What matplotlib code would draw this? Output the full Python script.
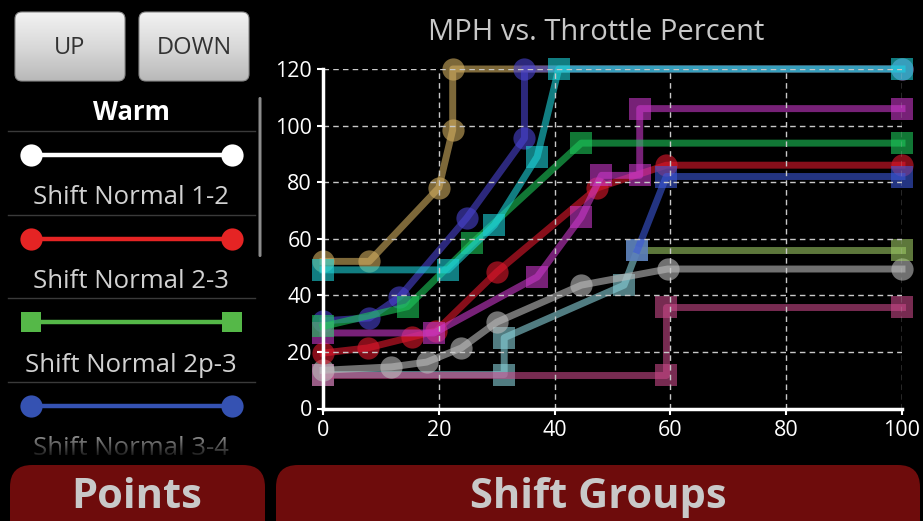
"""
MPH vs. Throttle Percent - shift schedule screen
"""

import numpy as np
import matplotlib.pyplot as plt
from matplotlib.patches import FancyBboxPatch, Rectangle
from matplotlib.colors import LinearSegmentedColormap

plt.rcParams['font.family'] = ['Open Sans', 'DejaVu Sans']

# chart data (throttle %, mph)
title = 'MPH vs. Throttle Percent'
x_ticks = [0, 20, 40, 60, 80, 100]
y_ticks = [0, 20, 40, 60, 80, 100, 120]

gold_x = [0, 8, 20, 22.4, 22.4, 100]
gold_y = [52, 52, 78, 98.5, 120, 120]

blue_c_x = [0, 8, 13.2, 24.8, 34.8, 34.8, 100]
blue_c_y = [31, 32, 39.4, 67.3, 95.5, 120, 120]

pink_x = [0, 59.3, 59.3, 100]
pink_y = [12, 12, 36, 36]

steel_x = [0, 31.3, 31.3, 52, 54.3]
steel_y = [12, 12, 25, 43.6, 56]

gray_x = [0, 11.8, 17.9, 23.9, 30, 44.6, 59.5, 100]
gray_y = [13.5, 14.7, 16.4, 21.4, 30.5, 43.6, 49.3, 49.3]

red_x = [0, 7.7, 15.4, 19.6, 30, 47.4, 59.3, 100]
red_y = [19.6, 21.4, 25.3, 27.5, 48.2, 78, 86, 86]

purple_x = [0, 19.2, 37, 44.6, 48.1, 54.7, 54.7, 100]
purple_y = [26.7, 26.7, 46.5, 67.6, 82.4, 82.4, 106, 106]

green_x = [0, 14.6, 25.8, 44.6, 100]
green_y = [29, 36, 58.5, 93.8, 93.8]

olive_x = [54.3, 100]
olive_y = [56, 56]

blue_s_x = [54.3, 59.3, 100]
blue_s_y = [56, 82, 82]

teal_x = [0, 21.6, 29.6, 37, 40.7, 100]
teal_y = [49, 49, 64.8, 89, 120, 120]

# left side list
legend_names = ['Shift Normal 1-2', 'Shift Normal 2-3', 'Shift Normal 2p-3', 'Shift Normal 3-4']
legend_colors = ['white', '#e52424', '#55b848', '#3552b2']
legend_markers = ['o', 'o', 's', 'o']


fig = plt.figure(figsize=(9.23, 5.21), dpi=100, facecolor='black')

# UI layer in pixel coordinates
ui = fig.add_axes([0, 0, 1, 1], zorder=0)
ui.set_facecolor('black')
ui.axis('off')

btn_cmap = LinearSegmentedColormap.from_list('btn', ['#f2f2f2', '#d9d9d9', '#b9b9b9'])


def gray_button(x0, y0, w, h, label):
    box = FancyBboxPatch((x0, y0), w, h, boxstyle='round,pad=0,rounding_size=7',
                         fc='none', ec='#8a8a8a', lw=0.8, zorder=3)
    ui.add_patch(box)
    grad = np.linspace(0, 1, 100)[:, None]
    im = ui.imshow(grad, cmap=btn_cmap, extent=(x0, x0 + w, y0 + h, y0),
                   aspect='auto', zorder=2)
    im.set_clip_path(box)
    ui.text(x0 + w / 2, y0 + h / 2 + 2, label, color='#333333', fontsize=17,
            ha='center', va='center', zorder=4)


gray_button(15, 12, 110, 69, 'UP')
gray_button(139, 12, 110, 69, 'DOWN')

ui.text(131, 112, 'Warm', color='white', fontsize=18.5, fontweight='bold',
        ha='center', va='center')

# separators of the list
for ys in [131, 215, 298, 382]:
    ui.plot([8, 255], [ys, ys], color='#3a3a3a', lw=1)

# scroll bar
ui.add_patch(FancyBboxPatch((258.5, 97), 3, 160, boxstyle='round,pad=0,rounding_size=1.5',
                            fc='#8c8c8c', ec='none'))

list_clip = Rectangle((0, 0), 270, 452, transform=ui.transData)
for i, name in enumerate(legend_names):
    ly = 155 + i * 83.5
    ui.plot([31, 232], [ly, ly], color=legend_colors[i], lw=3.2,
            marker=legend_markers[i], markersize=16 if legend_markers[i] == 'o' else 15,
            markeredgewidth=0)
    t = ui.text(131, ly + 43, name, color='#d2d2d2', fontsize=18.5,
                ha='center', va='center')
    t.set_clip_path(list_clip)

# fade at the bottom of the list
fade = np.zeros((50, 1, 4))
fade[:, 0, 3] = np.linspace(0, 0.85, 50)
ui.imshow(fade, extent=(0, 270, 455, 425), aspect='auto', zorder=5)

# bottom buttons
ui.add_patch(FancyBboxPatch((10, 465), 255, 80, boxstyle='round,pad=0,rounding_size=22',
                            fc='#6e0c0c', ec='none', zorder=6))
ui.add_patch(FancyBboxPatch((276, 465), 644, 80, boxstyle='round,pad=0,rounding_size=22',
                            fc='#6e0c0c', ec='none', zorder=6))
ui.text(137, 498, 'Points', color='#c9c9c9', fontsize=30, fontweight='bold',
        ha='center', va='center', zorder=7)
ui.text(598, 498, 'Shift Groups', color='#c9c9c9', fontsize=30, fontweight='bold',
        ha='center', va='center', zorder=7)

ui.set_xlim(0, 923)
ui.set_ylim(521, 0)

# chart
ax = fig.add_axes([323 / 923, 1 - 408.5 / 521, 579 / 923, 339.5 / 521], zorder=1)
ax.set_facecolor('black')

series = [
    (gold_x, gold_y, '#d2ae60', 'o'),
    (blue_c_x, blue_c_y, '#4a44d0', 'o'),
    (steel_x, steel_y, '#88d0d8', 's'),
    (pink_x, pink_y, '#c84888', 's'),
    (gray_x, gray_y, '#bcbcbc', 'o'),
    (red_x, red_y, '#e0182c', 'o'),
    (purple_x, purple_y, '#c838c8', 's'),
    (green_x, green_y, '#1ec85a', 's'),
    (olive_x, olive_y, '#9cc864', 's'),
    (blue_s_x, blue_s_y, '#3c58d8', 's'),
    (teal_x, teal_y, '#1ed2d8', 's'),
]
for xs, ys, col, mk in series:
    ax.plot(xs, ys, color=col, alpha=0.6, lw=5, marker=mk,
            markersize=16, markeredgewidth=0,
            solid_joinstyle='round', clip_on=False)

ax.set_xlim(0, 100)
ax.set_ylim(0, 120)
ax.set_xticks(x_ticks)
ax.set_yticks(y_ticks)
ax.grid(True, color='#c8c8c8', linestyle=(0, (4, 3)), linewidth=1)
ax.set_axisbelow(False)

for side in ['top', 'right']:
    ax.spines[side].set_visible(False)
for side in ['left', 'bottom']:
    ax.spines[side].set_color('white')
    ax.spines[side].set_linewidth(2.5)
    ax.spines[side].set_zorder(3)

ax.tick_params(colors='white', labelsize=15.5, length=4, width=1.5, pad=4)

fig.text(596 / 923, 1 - 32 / 521, title, color='#c8c8c8', fontsize=21,
         ha='center', va='center')

plt.savefig('out.png', dpi=100, facecolor='black')
